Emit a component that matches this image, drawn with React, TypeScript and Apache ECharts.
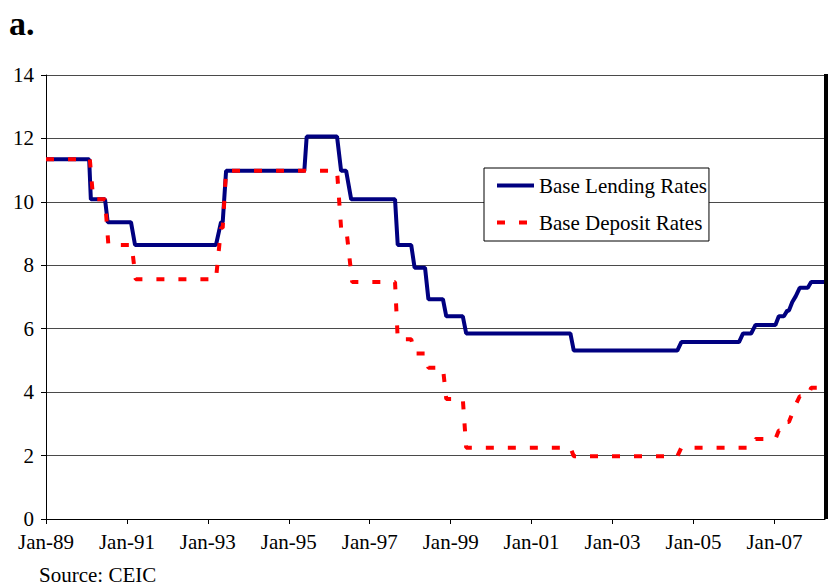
import React, { useEffect, useRef } from "react";
import * as echarts from "echarts";

// x positions are months counted from Jan-89 (0 = Jan-89)
const lendMonths = [0, 12.8, 13.3, 17.5, 18.3, 25.2, 26.4, 50.4, 51.9, 52.4, 53.4, 76.6, 77.3, 86.3, 87.5, 89, 90.5, 103.5, 104.3, 108.3, 109.3, 112.4, 113.4, 117.7, 118.7, 123.6, 124.6, 155.5, 156.5, 187.2, 188.4, 205.5, 206.7, 209.1, 210.4, 216.3, 217.3, 218.8, 219.8, 220.3, 221.3, 222.3, 223.5, 225.9, 226.9, 231];
const lendRates = [11.34, 11.34, 10.08, 10.08, 9.36, 9.36, 8.64, 8.64, 9.36, 9.36, 10.98, 10.98, 12.06, 12.06, 10.98, 10.98, 10.08, 10.08, 8.64, 8.64, 7.92, 7.92, 6.93, 6.93, 6.39, 6.39, 5.85, 5.85, 5.31, 5.31, 5.58, 5.58, 5.85, 5.85, 6.12, 6.12, 6.39, 6.39, 6.57, 6.57, 6.84, 7.02, 7.29, 7.29, 7.47, 7.47];

const depMonths = [0, 13.0, 14.0, 17.5, 18.5, 25.4, 26.6, 50.4, 51.9, 52.4, 53.4, 86.3, 87.5, 89, 90.8, 103.5, 104.3, 108.3, 109.3, 112.4, 113.4, 117.7, 118.7, 123.6, 124.6, 155.5, 156.5, 187.2, 188.4, 209.1, 210.4, 216.3, 217.3, 218.8, 219.8, 220.3, 221.3, 222.3, 223.5, 225.9, 226.9, 231];
const depRates = [11.34, 11.34, 10.08, 10.08, 8.64, 8.64, 7.56, 7.56, 9.18, 9.18, 10.98, 10.98, 9.18, 9.18, 7.47, 7.47, 5.67, 5.67, 5.22, 5.22, 4.77, 4.77, 3.78, 3.78, 2.25, 2.25, 1.98, 1.98, 2.25, 2.25, 2.52, 2.52, 2.79, 2.79, 3.06, 3.06, 3.33, 3.60, 3.87, 3.87, 4.14, 4.14];

const seriesNames = ["Base Lending Rates", "Base Deposit Rates"];
const startYear = 1989;
const monthTickInterval = 24;
const yTicks = [0, 2, 4, 6, 8, 10, 12, 14];

const FONT = "'Liberation Serif', 'Times New Roman', serif";

export default function App() {
  const ref = useRef<HTMLDivElement>(null);
  useEffect(() => {
    document.body.style.margin = "0";
    const chart = echarts.init(ref.current!, undefined, { renderer: "svg" });
    const zip = (xs: number[], ys: number[]) => xs.map((x, i) => [x, ys[i]]);
    chart.setOption({
      animation: false,
      backgroundColor: "#fff",
      textStyle: { fontFamily: FONT },
      grid: { left: 46, right: 3, top: 75, bottom: 66, containLabel: false },
      legend: {
        orient: "vertical",
        left: 484,
        top: 168,
        padding: [7, 2, 8, 11],
        itemGap: 16,
        itemWidth: 37,
        itemHeight: 14,
        borderColor: "#000",
        borderWidth: 1,
        backgroundColor: "#fff",
        itemStyle: { opacity: 0 },
        lineStyle: { width: 4 },
        textStyle: { fontFamily: FONT, fontSize: 21, color: "#000", lineHeight: 21 },
        data: seriesNames,
      },
      xAxis: {
        type: "value",
        min: 0,
        max: 231,
        interval: monthTickInterval,
        splitLine: { show: false },
        axisLine: { show: true, lineStyle: { color: "#000", width: 1 } },
        axisTick: { show: true, length: 5, lineStyle: { color: "#000" } },
        axisLabel: {
          showMaxLabel: false,
          margin: 12,
          fontFamily: FONT,
          fontSize: 21,
          color: "#000",
          formatter: (v: number) => {
            const y = startYear + Math.floor(v / 12);
            return "Jan-" + String(y % 100).padStart(2, "0");
          },
        },
      },
      yAxis: {
        type: "value",
        min: yTicks[0],
        max: yTicks[yTicks.length - 1],
        interval: 2,
        axisLine: { show: true, lineStyle: { color: "#000", width: 1 } },
        axisTick: { show: true, length: 5, lineStyle: { color: "#000" } },
        splitLine: { show: true, lineStyle: { color: "#4a4a4a", width: 1 } },
        axisLabel: { margin: 12, fontFamily: FONT, fontSize: 21, color: "#000" },
      },
      series: [
        {
          name: seriesNames[0],
          type: "line",
          symbol: "none",
          data: zip(lendMonths, lendRates),
          lineStyle: { color: "#000080", width: 4 },
          itemStyle: { color: "#000080" },
          z: 2,
        },
        {
          name: seriesNames[1],
          type: "line",
          symbol: "none",
          data: zip(depMonths, depRates),
          lineStyle: { color: "#ff0000", width: 4, type: [8, 14] },
          itemStyle: { color: "#ff0000" },
          z: 3,
        },
      ],
      graphic: [
        {
          type: "text",
          left: 9,
          top: 6,
          style: { text: "a.", fontFamily: FONT, fontSize: 34, fontWeight: "bold", fill: "#000" },
        },
        {
          type: "text",
          left: 39,
          top: 564,
          style: { text: "Source: CEIC", fontFamily: FONT, fontSize: 21, fill: "#000" },
        },
        {
          type: "rect",
          shape: { x: 824, y: 74, width: 4, height: 445 },
          style: { fill: "#000" },
          z: 10,
        },
      ],
    });
    return () => chart.dispose();
  }, []);
  return <div ref={ref} style={{ width: 828, height: 585 }} />;
}
